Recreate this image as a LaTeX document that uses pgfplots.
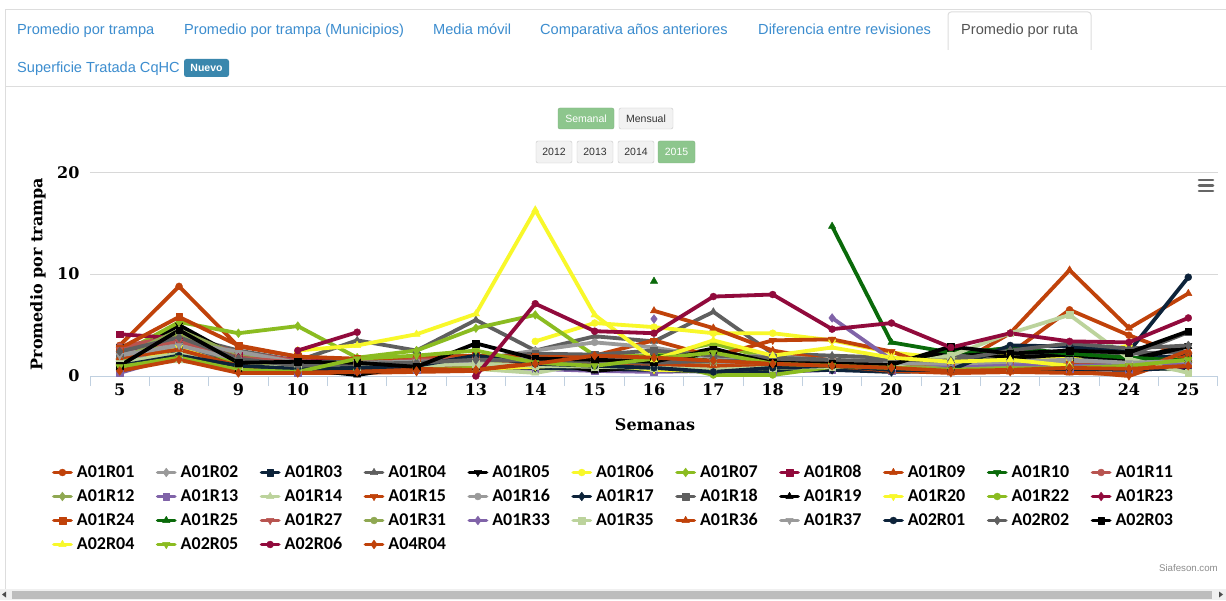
\documentclass[border=0pt]{standalone}
\usepackage{pgfplots}
\pgfplotsset{compat=1.18}
\usepackage{fontspec}
\setmainfont{Liberation Sans}
\newfontfamily\axf{DejaVu Serif}
\newfontfamily\lgf{Carlito}
\definecolor{cOR}{HTML}{C0420A}
\definecolor{cGR}{HTML}{9A9A9A}
\definecolor{cNV}{HTML}{0D233A}
\definecolor{cDG}{HTML}{5F5F5F}
\definecolor{cBK}{HTML}{000000}
\definecolor{cYL}{HTML}{F8F82A}
\definecolor{cYG}{HTML}{8BBC21}
\definecolor{cMR}{HTML}{910A3C}
\definecolor{cDN}{HTML}{0A6A0A}
\definecolor{cRS}{HTML}{B85450}
\definecolor{cOL}{HTML}{8FA852}
\definecolor{cPU}{HTML}{8063A8}
\definecolor{cLG}{HTML}{BCD39C}
\definecolor{bord}{HTML}{DDDDDD}
\definecolor{link}{HTML}{3C8DCF}
\definecolor{badge}{HTML}{3A87AD}
\definecolor{okg}{HTML}{8DC68D}
\definecolor{axc}{HTML}{C0D0E0}
\definecolor{gridc}{HTML}{D8D8D8}
\pgfplotsset{
 sr/.style={line width=3.8pt, line join=round, line cap=round, unbounded coords=jump},
 mkC/.style={mark=*, mark size=3.5pt, mark options={solid, line width=0.4pt}},
 mkD/.style={mark=diamond*, mark size=4.4pt, mark options={solid, line width=0.4pt}},
 mkS/.style={mark=square*, mark size=3.3pt, mark options={solid, line width=0.4pt}},
 mkT/.style={mark=triangle*, mark size=4.3pt, mark options={solid, line width=0.4pt}},
 mkV/.style={mark=triangle*, mark size=4.3pt, mark options={solid, rotate=180, line width=0.4pt}},
}
\newcommand\serie[4]{\addplot[sr,color=#1,#2] table[x expr=\coordindex, y index=0, header=false, row sep=\\]{#3};
\addlegendentry{\makebox[71pt][l]{#4}}}
\begin{document}
\begin{tikzpicture}[x=1pt,y=1pt]
\path[use as bounding box] (0,0) rectangle (1226,600);
\fill[white] (0,0) rectangle (1226,600);
% frame
\draw[bord, line width=1pt] (5,0) -- (5,590) -- (1226,590);
\draw[bord, line width=1pt] (5,513) -- (1226,513);
\draw[bord, line width=1pt, fill=white, rounded corners=3pt] (948,550) -- (948,588) -- (1091,588) -- (1091,550);
% tabs
\begin{scope}[every node/.style={anchor=base west, inner sep=0pt, font=\fontsize{14.6}{16}\selectfont}]
\node[text=link] at (17,565.7) {Promedio por trampa};
\node[text=link] at (184,565.7) {Promedio por trampa (Municipios)};
\node[text=link] at (433,565.7) {Media móvil};
\node[text=link] at (540,565.7) {Comparativa años anteriores};
\node[text=link] at (758,565.7) {Diferencia entre revisiones};
\node[text=black!67] at (961,565.7) {Promedio por ruta};
\node[text=link] at (17,527.7) {Superficie Tratada CqHC};
\end{scope}
\fill[badge, rounded corners=2.5pt] (184,523) rectangle (229,541);
\node[text=white, font=\fontsize{10.5}{12}\selectfont\bfseries] at (206.5,532) {Nuevo};
% buttons
\begin{scope}[every node/.style={font=\fontsize{10.5}{12}\selectfont}]
\filldraw[fill=okg, draw=okg!90!black, rounded corners=2pt] (558,471) rectangle (614,492);
\node[text=white] at (586,481.5) {Semanal};
\filldraw[fill=black!5, draw=black!22, rounded corners=2pt] (619,471) rectangle (673,492);
\node[text=black!80] at (646,481.5) {Mensual};
\filldraw[fill=black!5, draw=black!22, rounded corners=2pt] (536,437) rectangle (572,459);
\node[text=black!80] at (554,448) {2012};
\filldraw[fill=black!5, draw=black!22, rounded corners=2pt] (577,437) rectangle (613,459);
\node[text=black!80] at (595,448) {2013};
\filldraw[fill=black!5, draw=black!22, rounded corners=2pt] (618,437) rectangle (654,459);
\node[text=black!80] at (636,448) {2014};
\filldraw[fill=okg, draw=okg!90!black, rounded corners=2pt] (658,437) rectangle (695,459);
\node[text=white] at (676.5,448) {2015};
\end{scope}
% menu icon
\draw[black!60, line width=2.6pt, line cap=round] (1199,420) -- (1213,420) (1199,414.5) -- (1213,414.5) (1199,409) -- (1213,409);
% credits
\node[anchor=east, text=black!45, font=\fontsize{9.7}{11}\selectfont, inner sep=0pt] at (1218,32) {Siafeson.com};
% scrollbar
\fill[black!6] (0,0) rectangle (1226,11);
\fill[black!26] (12,1.5) rectangle (1212,9.5);
\fill[black!70] (2,5.5) -- (6,8.5) -- (6,2.5) -- cycle;
\fill[black!70] (1223,5.5) -- (1219,8.5) -- (1219,2.5) -- cycle;
\begin{axis}[
 at={(90pt,224pt)}, anchor=south west,
 scale only axis, width=1128pt, height=203.7pt,
 xmin=-0.5, xmax=18.5, ymin=0, ymax=20,
 clip=false,
 axis x line*=bottom, axis y line*=left,
 x axis line style={draw=axc, line width=1pt, -},
 y axis line style={draw=none},
 xtick={0,...,18},
 xticklabels={5,8,9,10,11,12,13,14,15,16,17,18,19,20,21,22,23,24,25},
 major tick length=0pt,
 extra x ticks={-0.5,0.5,1.5,2.5,3.5,4.5,5.5,6.5,7.5,8.5,9.5,10.5,11.5,12.5,13.5,14.5,15.5,16.5,17.5,18.5},
 extra x tick labels={},
 extra x tick style={major tick length=10pt, tick align=outside, tick style={draw=axc, line width=1pt}, grid=none},
 ytick={0,10,20},
 ytick style={draw=none},
 ymajorgrids, grid style={draw=gridc, line width=1pt},
 /pgf/number format/assume math mode=true,
 ticklabel style={font=\fontsize{16}{16}\axf\bfseries},
 xticklabel style={yshift=-4pt},
 yticklabel style={xshift=-7pt},
 ylabel={Promedio por trampa}, xlabel={Semanas},
 every axis y label/.style={at={(axis description cs:-0.0461,0.5)}, rotate=90, anchor=center, font=\fontsize{16}{16}\axf\bfseries},
 every axis x label/.style={at={(axis description cs:0.5009,-0.2405)}, anchor=center, font=\fontsize{16}{16}\axf\bfseries},
 legend columns=11,
 legend cell align=left,
 legend style={at={(axis description cs:-0.0337,-0.432)}, anchor=north west, draw=none, fill=none,
   inner sep=0pt, outer sep=0pt, font=\fontsize{18}{20}\lgf\bfseries,
   nodes={inner xsep=4pt, inner ysep=0pt, text height=13pt, text depth=4pt},
   row sep=7pt, /tikz/every even column/.append style={column sep=4pt}},
]
\serie{cOR}{mkC}{3.0\\8.8\\2.9\\1.9\\1.6\\1.8\\1.9\\1.7\\1.6\\1.4\\1.2\\1.0\\1.2\\0.8\\0.6\\2.2\\6.5\\4.0\\1.8\\}{A01R01}
\serie{cGR}{mkD}{1.5\\2.5\\1.2\\0.8\\1.0\\1.2\\1.4\\1.3\\1.5\\1.2\\1.5\\1.2\\1.3\\1.0\\1.2\\1.3\\1.5\\1.4\\1.6\\}{A01R02}
\serie{cNV}{mkS}{2.8\\3.6\\1.5\\0.9\\1.0\\2.0\\1.9\\1.5\\1.3\\1.0\\0.8\\1.0\\1.1\\0.9\\1.0\\1.2\\1.6\\1.7\\2.0\\}{A01R03}
\serie{cDG}{mkT}{2.6\\4.0\\2.5\\1.5\\3.5\\2.5\\5.5\\2.5\\3.9\\3.4\\6.3\\2.2\\2.0\\1.8\\1.4\\1.6\\2.0\\2.2\\2.4\\}{A01R04}
\serie{cBK}{mkV}{1.5\\5.0\\1.8\\1.0\\1.2\\1.0\\1.0\\2.0\\1.8\\1.5\\2.7\\1.2\\1.2\\0.8\\2.7\\2.0\\2.5\\1.6\\3.0\\}{A01R05}
\serie{cYL}{mkC}{nan\\nan\\nan\\nan\\nan\\nan\\nan\\3.4\\5.2\\4.8\\4.2\\4.2\\3.5\\2.3\\1.7\\2.2\\1.6\\3.0\\nan\\}{A01R06}
\serie{cYG}{mkD}{2.1\\5.3\\4.2\\4.9\\1.8\\2.5\\4.7\\6.0\\2.0\\2.0\\3.2\\1.6\\1.5\\1.2\\1.0\\1.2\\1.0\\1.3\\1.8\\}{A01R07}
\serie{cMR}{mkS}{4.1\\3.7\\2.0\\1.6\\1.5\\1.4\\1.5\\1.6\\1.3\\1.2\\1.0\\0.9\\1.0\\0.8\\0.9\\0.8\\0.7\\0.8\\0.9\\}{A01R08}
\serie{cOR}{mkT}{nan\\nan\\nan\\nan\\nan\\nan\\nan\\nan\\nan\\6.4\\4.7\\2.5\\1.5\\1.0\\0.8\\4.2\\10.4\\4.7\\8.1\\}{A01R09}
\serie{cDN}{mkV}{1.2\\2.0\\1.5\\1.0\\1.1\\1.3\\1.2\\1.0\\0.9\\2.0\\1.5\\1.4\\1.3\\1.2\\2.0\\2.8\\2.2\\1.5\\1.3\\}{A01R10}
\serie{cRS}{mkC}{2.9\\3.9\\2.3\\1.5\\1.2\\1.5\\1.8\\2.0\\1.7\\1.4\\1.2\\1.0\\1.2\\1.0\\0.8\\0.9\\1.0\\1.1\\1.3\\}{A01R11}
\serie{cOL}{mkD}{1.8\\4.5\\2.0\\1.2\\1.0\\1.1\\1.3\\1.5\\1.2\\1.0\\1.5\\1.2\\1.0\\0.8\\0.7\\0.6\\0.8\\0.9\\1.0\\}{A01R12}
\serie{cPU}{mkS}{0.3\\2.0\\1.0\\0.3\\0.5\\0.6\\0.8\\0.7\\0.5\\0.4\\0.5\\0.4\\0.6\\0.5\\0.8\\0.9\\0.7\\0.6\\0.8\\}{A01R13}
\serie{cLG}{mkT}{1.0\\1.5\\0.8\\0.6\\0.7\\0.6\\0.7\\0.3\\1.3\\0.9\\0.8\\0.7\\0.9\\1.0\\0.8\\0.7\\0.9\\0.8\\0.6\\}{A01R14}
\serie{cOR}{mkV}{1.0\\1.8\\0.4\\0.3\\0.3\\0.4\\0.5\\1.8\\2.0\\3.5\\1.9\\3.5\\3.6\\2.4\\0.3\\0.4\\0.5\\0.0\\2.0\\}{A01R15}
\serie{cGR}{mkC}{2.2\\3.3\\2.4\\1.3\\1.5\\1.7\\1.6\\2.5\\3.3\\2.8\\1.8\\2.0\\1.5\\1.2\\1.0\\1.1\\1.2\\1.0\\1.3\\}{A01R16}
\serie{cNV}{mkD}{1.0\\2.5\\1.0\\0.4\\0.5\\0.7\\0.9\\0.8\\0.7\\0.6\\0.4\\0.5\\0.6\\0.4\\0.5\\0.6\\0.7\\0.6\\0.8\\}{A01R17}
\serie{cDG}{mkS}{1.8\\3.0\\1.4\\1.0\\1.3\\1.5\\1.8\\2.2\\2.1\\2.5\\2.0\\1.8\\1.6\\1.3\\2.0\\1.8\\2.3\\2.0\\4.3\\}{A01R18}
\serie{cBK}{mkT}{0.8\\2.2\\0.6\\0.7\\0.1\\1.0\\0.8\\1.5\\0.5\\1.0\\2.5\\1.2\\1.2\\1.0\\2.5\\1.8\\2.1\\1.5\\2.9\\}{A01R19}
\serie{cYL}{mkV}{0.8\\2.8\\0.7\\0.6\\0.5\\0.6\\0.7\\0.9\\1.2\\0.6\\0.5\\0.8\\1.0\\0.9\\1.0\\1.1\\0.8\\0.9\\1.2\\}{A01R20}
\serie{cYG}{mkC}{1.5\\4.0\\1.0\\0.5\\0.6\\0.8\\1.0\\1.2\\1.5\\1.5\\0.1\\0.1\\0.9\\0.8\\0.7\\0.9\\1.0\\1.2\\1.4\\}{A01R22}
\serie{cMR}{mkD}{2.5\\3.5\\1.8\\1.2\\1.0\\1.0\\1.2\\1.4\\1.2\\1.0\\0.9\\1.0\\1.1\\0.9\\0.8\\0.9\\1.0\\0.9\\0.9\\}{A01R23}
\serie{cOR}{mkS}{2.7\\5.8\\3.0\\1.9\\1.7\\1.8\\2.0\\1.9\\1.8\\1.6\\1.3\\1.2\\1.4\\1.1\\0.9\\1.0\\1.1\\1.0\\1.2\\}{A01R24}
\serie{cDN}{mkT}{nan\\nan\\nan\\nan\\nan\\nan\\nan\\nan\\nan\\9.3\\nan\\nan\\14.7\\3.3\\2.3\\2.7\\2.2\\1.8\\1.5\\}{A01R25}
\serie{cRS}{mkV}{2.6\\3.4\\1.8\\1.3\\1.1\\1.6\\1.7\\1.5\\1.4\\1.2\\1.0\\1.1\\1.0\\0.9\\0.8\\0.9\\1.0\\1.0\\1.1\\}{A01R27}
\serie{cOL}{mkC}{1.6\\4.2\\1.5\\1.0\\1.1\\1.2\\1.4\\1.6\\1.4\\1.2\\1.3\\1.1\\1.0\\0.9\\0.8\\0.9\\0.9\\1.0\\1.2\\}{A01R31}
\serie{cPU}{mkD}{nan\\nan\\nan\\nan\\nan\\nan\\nan\\nan\\nan\\5.6\\nan\\nan\\5.7\\1.6\\1.0\\1.2\\1.0\\1.1\\1.2\\}{A01R33}
\serie{cLG}{mkS}{1.3\\2.2\\1.0\\0.8\\0.9\\1.0\\1.2\\1.0\\0.9\\0.8\\0.7\\0.8\\0.9\\1.0\\2.0\\4.2\\6.0\\1.7\\0.3\\}{A01R35}
\serie{cOR}{mkT}{1.8\\2.6\\1.0\\0.6\\0.5\\0.7\\0.6\\1.3\\1.4\\1.2\\1.0\\1.2\\1.0\\0.5\\0.3\\0.4\\0.3\\0.2\\2.5\\}{A01R36}
\serie{cGR}{mkV}{2.0\\3.0\\1.6\\1.1\\1.3\\1.4\\1.5\\1.7\\1.6\\1.5\\1.4\\1.3\\1.5\\1.3\\1.2\\1.4\\1.6\\1.3\\1.5\\}{A01R37}
\serie{cNV}{mkC}{1.0\\2.0\\1.0\\0.7\\0.8\\1.0\\2.0\\1.2\\1.0\\0.8\\0.4\\0.8\\1.0\\0.6\\0.6\\3.0\\2.9\\2.4\\9.7\\}{A02R01}
\serie{cDG}{mkD}{2.4\\3.8\\1.7\\1.0\\1.2\\1.3\\1.6\\1.5\\1.4\\1.3\\1.5\\1.4\\1.5\\1.6\\1.5\\2.5\\3.2\\2.7\\3.0\\}{A02R02}
\serie{cBK}{mkS}{1.0\\4.5\\1.3\\1.4\\1.3\\0.9\\3.2\\1.7\\1.6\\1.4\\2.6\\1.3\\1.2\\1.1\\2.9\\2.2\\2.5\\2.3\\4.4\\}{A02R03}
\serie{cYL}{mkT}{nan\\nan\\nan\\2.5\\3.0\\4.1\\6.1\\16.3\\6.0\\1.6\\3.5\\2.0\\2.8\\1.8\\1.4\\1.6\\1.0\\nan\\nan\\}{A02R04}
\serie{cYG}{mkV}{0.9\\1.8\\0.6\\0.4\\1.7\\2.0\\2.5\\1.3\\1.0\\1.7\\2.3\\1.2\\1.0\\0.8\\0.6\\0.7\\0.8\\1.0\\1.6\\}{A02R05}
\serie{cMR}{mkC}{nan\\nan\\nan\\2.5\\4.3\\nan\\0.0\\7.1\\4.4\\4.2\\7.8\\8.0\\4.6\\5.2\\2.8\\4.2\\3.4\\3.3\\5.7\\}{A02R06}
\serie{cOR}{mkD}{0.5\\1.6\\0.3\\0.3\\0.4\\0.5\\0.6\\1.2\\2.0\\1.8\\1.5\\1.2\\1.0\\0.8\\0.5\\0.6\\0.8\\0.7\\1.0\\}{A04R04}
\end{axis}
\end{tikzpicture}
\end{document}
